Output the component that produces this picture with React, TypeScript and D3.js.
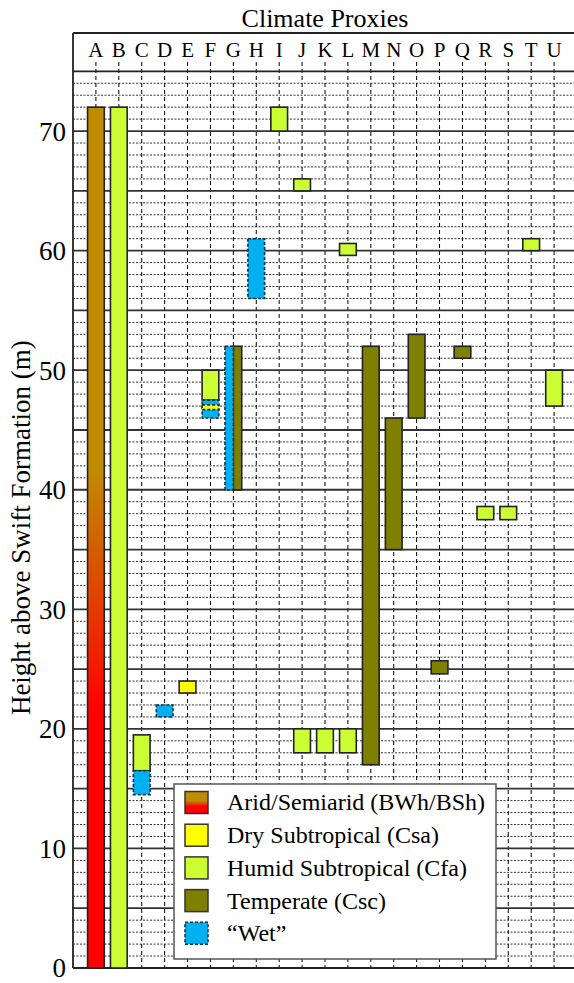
import React from "react";
import * as d3 from "d3";

// climate proxy columns
const columns = ["A", "B", "C", "D", "E", "F", "G", "H", "I", "J", "K", "L", "M", "N", "O", "P", "Q", "R", "S", "T", "U"];

// [column, bottom (m), top (m), part of column]
const aridBars: [string, number, number, string?][] = [["A", 0, 72]];
const humidBars: [string, number, number, string?][] = [
  ["B", 0, 72],
  ["C", 16.5, 19.5],
  ["F", 47.5, 50],
  ["I", 70, 72],
  ["J", 65, 66],
  ["J", 18, 20],
  ["K", 18, 20],
  ["L", 18, 20],
  ["L", 59.6, 60.6],
  ["R", 37.5, 38.6],
  ["S", 37.5, 38.6],
  ["T", 60, 61],
  ["U", 47, 50],
];
const temperateBars: [string, number, number, string?][] = [
  ["G", 40, 52, "right"],
  ["M", 17, 52],
  ["N", 35, 46],
  ["O", 46, 53],
  ["P", 24.6, 25.7],
  ["Q", 51, 52],
];
const wetBars: [string, number, number, string?][] = [
  ["C", 14.5, 16.5],
  ["D", 21, 22],
  ["F", 46, 47.5],
  ["G", 40, 52, "left"],
  ["H", 56, 61],
];
const dryBars: [string, number, number, string?][] = [
  ["E", 23, 24],
  ["F", 46.7, 47.1],
];

const yTicks = [0, 10, 20, 30, 40, 50, 60, 70];
const legendLabels = ["Arid/Semiarid (BWh/BSh)", "Dry Subtropical (Csa)", "Humid Subtropical (Cfa)", "Temperate (Csc)", "\u201cWet\u201d"];

const FONT = "Liberation Serif";
const BROWN = "#BF8C00";
const RED = "#FF0000";
const YELLOW = "#FFFF00";
const LIME = "#CCFF33";
const OLIVE = "#808000";
const BLUE = "#00B0F0";

const W = 574;
const H = 983;
const left = 73;
const right = 577;
const headTop = 33;

const css = `svg.proxies text { font-family: "Liberation Serif", "Times New Roman", Tinos, serif; }`;

export default function App() {
  const x = d3.scaleLinear().domain([0, columns.length + 1]).range([left, right]);
  const y = d3.scaleLinear().domain([0, 75]).range([968, 71.3]);
  const step = x(1) - x(0);
  const bw = step * 0.73;
  const colX = (c: string) => x(columns.indexOf(c) + 1);

  const minor = d3.range(1, 75).filter((v) => v % 5 !== 0);
  const major = d3.range(5, 75, 5);

  const barRect = (d: [string, number, number, string?]) => {
    const cx = colX(d[0]);
    let x0 = cx - bw / 2;
    let w = bw;
    if (d[3] === "left") w = bw / 2;
    if (d[3] === "right") {
      x0 = cx;
      w = bw / 2;
    }
    return { x: x0, y: y(d[2]), width: w, height: y(d[1]) - y(d[2]) };
  };

  const solid = { stroke: "#222", strokeWidth: 1.6 };
  const dashed = { stroke: "#14323f", strokeWidth: 1.6, strokeDasharray: "3,2" };
  const insideWet = (d: [string, number, number, string?]) =>
    wetBars.some((w) => w[0] === d[0] && w[1] <= d[1] && w[2] >= d[2]);

  const legendX = 174;
  const legendY = 784;
  const rowH = 32.7;
  const legendFills = ["url(#aridLegend)", YELLOW, LIME, OLIVE, BLUE];

  return (
    <svg className="proxies" width={W} height={H} style={{ position: "absolute", left: 0, top: 0 }}>
      <style>{css}</style>
      <defs>
        <linearGradient id="arid" x1="0" y1="0" x2="0" y2="1">
          <stop offset="0" stopColor={BROWN} />
          <stop offset="0.42" stopColor={BROWN} />
          <stop offset="0.7" stopColor={RED} />
          <stop offset="1" stopColor={RED} />
        </linearGradient>
        <linearGradient id="aridLegend" x1="0" y1="0" x2="0" y2="1">
          <stop offset="0" stopColor={BROWN} />
          <stop offset="0.42" stopColor={BROWN} />
          <stop offset="0.68" stopColor={RED} />
          <stop offset="1" stopColor={RED} />
        </linearGradient>
      </defs>
      <rect width={W} height={H} fill="#fff" />

      <text fontFamily={FONT} x={(left + right) / 2} y={27} fontSize={26} textAnchor="middle">
        Climate Proxies
      </text>

      {/* column letters */}
      {columns.map((c) => (
        <text fontFamily={FONT} key={c} x={colX(c)} y={57} fontSize={21} textAnchor="middle">
          {c}
        </text>
      ))}

      {/* minor dotted grid */}
      {minor.map((v) => (
        <line key={"m" + v} x1={left} x2={right} y1={y(v)} y2={y(v)} stroke="#333" strokeWidth={1} strokeDasharray="2,1.5" />
      ))}

      {/* vertical dashed grid */}
      {columns.map((c) => (
        <line key={"v" + c} x1={colX(c)} x2={colX(c)} y1={62} y2={y(0)} stroke="#000" strokeWidth={1} strokeDasharray="4,3" />
      ))}

      {/* major lines */}
      {major.map((v) => (
        <line key={"M" + v} x1={left} x2={right} y1={y(v)} y2={y(v)} stroke="#333" strokeWidth={1.8} />
      ))}
      <line x1={left} x2={right} y1={y(75)} y2={y(75)} stroke="#222" strokeWidth={1.8} />
      <line x1={left} x2={right} y1={headTop} y2={headTop} stroke="#222" strokeWidth={1.8} />
      <line x1={left} x2={right} y1={y(0)} y2={y(0)} stroke="#222" strokeWidth={1.8} />
      <line x1={left} x2={left} y1={headTop} y2={y(0)} stroke="#222" strokeWidth={1.8} />

      {/* bars */}
      {aridBars.map((d, i) => (
        <rect key={"a" + i} {...barRect(d)} fill="url(#arid)" {...solid} />
      ))}
      {humidBars.map((d, i) => (
        <rect key={"h" + i} {...barRect(d)} fill={LIME} {...solid} />
      ))}
      {temperateBars.map((d, i) => (
        <rect key={"t" + i} {...barRect(d)} fill={OLIVE} {...solid} />
      ))}
      {wetBars.map((d, i) => (
        <rect key={"w" + i} {...barRect(d)} fill={BLUE} {...dashed} />
      ))}
      {dryBars.map((d, i) => (
        <rect key={"d" + i} {...barRect(d)} fill={YELLOW} {...(insideWet(d) ? dashed : solid)} />
      ))}

      {/* y axis */}
      {yTicks.map((t) => (
        <text fontFamily={FONT} key={"y" + t} x={66} y={y(t)} dy="0.35em" fontSize={27} textAnchor="end">
          {t}
        </text>
      ))}
      <text fontFamily={FONT} transform={`translate(30,${(y(0) + y(75)) / 2 + 8}) rotate(-90)`} fontSize={27} textAnchor="middle">
        Height above Swift Formation (m)
      </text>

      {/* legend */}
      <rect x={legendX} y={legendY} width={322} height={175} fill="#fff" stroke="#555" strokeWidth={1.5} />
      {legendLabels.map((l, i) => (
        <g key={l} transform={`translate(0,${legendY + 18.5 + i * rowH})`}>
          <rect x={185} y={-11} width={23} height={22} fill={legendFills[i]} {...(i === 4 ? dashed : { stroke: "#333", strokeWidth: 1.5 })} />
          <text fontFamily={FONT} x={227} y={0} dy="0.33em" fontSize={24}>
            {l}
          </text>
        </g>
      ))}
    </svg>
  );
}
